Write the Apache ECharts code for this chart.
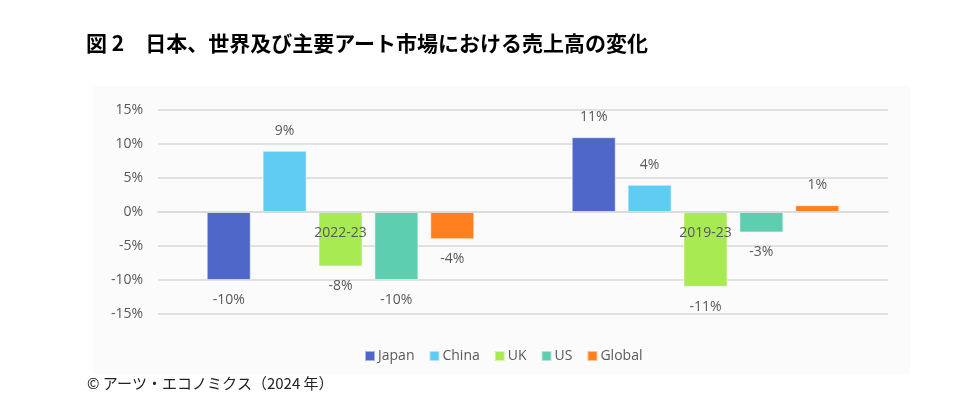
<!DOCTYPE html>
<html><head><meta charset="utf-8">
<script src="https://cdn.jsdelivr.net/npm/echarts@6/dist/echarts.min.js"></script>
<style>html,body{margin:0;padding:0;background:#fff}#c{width:964px;height:414px}</style>
</head><body><div id="c"></div>
<script>
const categories = ['2022-23', '2019-23'];
const seriesNames = ['Japan', 'China', 'UK', 'US', 'Global'];
const japan = [-10, 11];
const china = [9, 4];
const uk = [-8, -11];
const us = [-10, -3];
const global = [-4, 1];
const yTicks = [-15, -10, -5, 0, 5, 10, 15];
const colors = ['#4E67C8', '#5ECCF3', '#A7EA52', '#5DCEAF', '#FF8021'];
const values = [japan, china, uk, us, global];
const font = '"Open Sans", "Noto Sans", sans-serif';

const chart = echarts.init(document.getElementById('c'), null, {renderer: 'canvas'});
chart.setOption({
  animation: false,
  backgroundColor: '#ffffff',
  textStyle: {fontFamily: font},
  graphic: [
    {type: 'rect', z: -10, shape: {x: 93, y: 86, width: 817, height: 288}, style: {fill: '#fbfbfb'}},
    {type: 'text', left: 86, top: 33, style: {text: '図 2\u3000日本、世界及び主要アート市場における売上高の変化', font: 'bold 21px "Noto Sans CJK JP"', fill: '#000'}},
    {type: 'text', left: 87, top: 376, style: {text: '© アーツ・エコノミクス（2024 年）', font: '15px "Noto Sans CJK JP"', fill: '#222'}}
  ],
  legend: {
    data: seriesNames,
    top: 344,
    left: 359,
    itemWidth: 10, itemHeight: 10, itemGap: 14,
    icon: 'rect',
    textStyle: {color: '#595959', fontSize: 14, fontFamily: font, padding: [0, 0, 0, -2]}
  },
  grid: {left: 158, right: 76, top: 110, bottom: 100, containLabel: false},
  xAxis: {
    type: 'category', data: categories,
    axisLine: {show: true, onZero: true, lineStyle: {color: '#d9d9d9', width: 1.5}},
    axisTick: {show: false},
    axisLabel: {color: '#595959', fontSize: 14, margin: -88, fontFamily: font},
    z: 10
  },
  yAxis: {
    type: 'value', min: -15, max: 15, interval: 5,
    axisLine: {show: false}, axisTick: {show: false},
    splitLine: {lineStyle: {color: '#d9d9d9', width: 1.5}},
    axisLabel: {color: '#595959', fontSize: 14, margin: 15, fontFamily: font,
      formatter: v => yTicks.includes(v) ? v + '%' : ''}
  },
  series: seriesNames.map((n, i) => ({
    name: n, type: 'bar',
    data: values[i].map(v => ({value: v, label: {position: v < 0 ? 'bottom' : 'top'}})),
    barWidth: 44, barGap: '27%',
    itemStyle: {color: colors[i], borderColor: 'rgba(255,255,255,0.5)', borderWidth: 1},
    label: {
      show: true, color: '#595959', fontSize: 14, fontFamily: font, distance: 13,
      formatter: p => p.value + '%'
    }
  }))
});
</script></body></html>
